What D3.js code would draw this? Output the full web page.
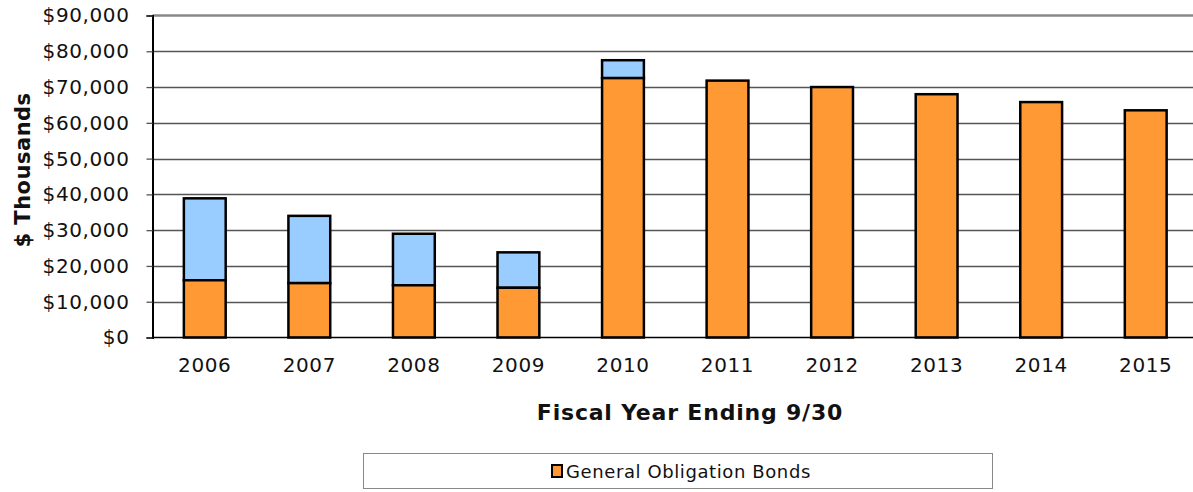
<!DOCTYPE html>
<html>
<head>
<meta charset="utf-8">
<script src="https://cdn.jsdelivr.net/npm/d3@7"></script>
<style>
  body { margin: 0; background: #fff; }
  svg { display: block; font-family: "DejaVu Sans", Verdana, sans-serif; }
</style>
</head>
<body>
<svg id="chart"></svg>
<script>
// fiscal years and bond amounts ($ thousands)
const years = ["2006", "2007", "2008", "2009", "2010", "2011", "2012", "2013", "2014", "2015"];
const generalObligation = [16000, 15200, 14600, 13900, 72500, 71800, 70000, 68000, 65800, 63500];
const otherDebt = [22900, 18800, 14400, 9900, 5000, 0, 0, 0, 0, 0];
const yTicks = [0, 10000, 20000, 30000, 40000, 50000, 60000, 70000, 80000, 90000];
const legendLabel = "General Obligation Bonds";

const width = 1193, height = 492;
const margin = { top: 15.5, right: -5, bottom: 154.5, left: 152.5 };

const svg = d3.select("#chart").attr("width", width).attr("height", height);

const xScale = d3.scaleBand()
    .domain(years)
    .range([margin.left, width - margin.right])
    .paddingInner(0.6)
    .paddingOuter(0.3);

const yScale = d3.scaleLinear()
    .domain([0, 90000])
    .range([height - margin.bottom, margin.top]);

// gridlines
svg.append("g")
    .selectAll("line")
    .data(yTicks.slice(1, -1))
    .join("line")
    .attr("x1", margin.left)
    .attr("x2", width)
    .attr("y1", d => Math.round(yScale(d)) + 0.5)
    .attr("y2", d => Math.round(yScale(d)) + 0.5)
    .attr("stroke", "#555")
    .attr("stroke-width", 1.3);

// top border of plot area
svg.append("line")
    .attr("x1", margin.left).attr("x2", width)
    .attr("y1", yScale(90000)).attr("y2", yScale(90000))
    .attr("stroke", "#888").attr("stroke-width", 2.5);

// stacked bars
const stack = years.map((y, i) => ({ year: y, go: generalObligation[i], other: otherDebt[i] }));
const bars = svg.append("g");

bars.selectAll("rect.other")
    .data(stack.filter(d => d.other > 0))
    .join("rect")
    .attr("class", "other")
    .attr("x", d => xScale(d.year))
    .attr("y", d => yScale(d.go + d.other))
    .attr("width", xScale.bandwidth())
    .attr("height", d => yScale(d.go) - yScale(d.go + d.other))
    .attr("fill", "#99ccff")
    .attr("stroke", "#000")
    .attr("stroke-width", 2.5);

bars.selectAll("rect.go")
    .data(stack)
    .join("rect")
    .attr("class", "go")
    .attr("x", d => xScale(d.year))
    .attr("y", d => yScale(d.go))
    .attr("width", xScale.bandwidth())
    .attr("height", d => yScale(0) - yScale(d.go))
    .attr("fill", "#ff9933")
    .attr("stroke", "#000")
    .attr("stroke-width", 2.5);

// y axis
const yAxis = svg.append("g")
    .attr("transform", `translate(${margin.left},0)`)
    .call(d3.axisLeft(yScale).tickValues(yTicks).tickSize(6).tickPadding(17)
        .tickFormat(d => "$" + d3.format(",")(d)));
yAxis.select(".domain").attr("stroke", "#000").attr("stroke-width", 2);
yAxis.selectAll(".tick line").attr("stroke", "#555").attr("stroke-width", 1.3);
yAxis.selectAll("text")
    .attr("fill", "#111")
    .style("font-size", "20px")
    .style("letter-spacing", "0.6px")
    .style("font-family", "'DejaVu Sans', Verdana, sans-serif");

// x axis
const xAxis = svg.append("g")
    .attr("transform", `translate(0,${yScale(0)})`)
    .call(d3.axisBottom(xScale).tickSize(0).tickPadding(20));
xAxis.select(".domain").attr("stroke", "#000").attr("stroke-width", 1.5)
    .attr("d", `M${margin.left},0H${width}`);
xAxis.selectAll("text")
    .attr("fill", "#111")
    .style("font-size", "20px")
    .style("letter-spacing", "0.6px")
    .style("font-family", "'DejaVu Sans', Verdana, sans-serif");

// axis titles
svg.append("text")
    .attr("x", 690)
    .attr("y", 420)
    .attr("text-anchor", "middle")
    .style("font-size", "22px")
    .style("letter-spacing", "0.8px")
    .style("font-weight", "bold")
    .attr("fill", "#111")
    .text("Fiscal Year Ending 9/30");

svg.append("text")
    .attr("transform", "translate(30,170) rotate(-90)")
    .attr("text-anchor", "middle")
    .style("font-size", "21px")
    .style("letter-spacing", "0.5px")
    .style("font-weight", "bold")
    .attr("fill", "#111")
    .text("$ Thousands");

// legend
const legend = svg.append("g");
legend.append("rect")
    .attr("x", 363.5).attr("y", 453.5)
    .attr("width", 629).attr("height", 35)
    .attr("fill", "#fff").attr("stroke", "#888").attr("stroke-width", 1);
legend.append("rect")
    .attr("x", 552).attr("y", 465)
    .attr("width", 10).attr("height", 12)
    .attr("fill", "#ff9933").attr("stroke", "#000").attr("stroke-width", 2);
legend.append("text")
    .attr("x", 566).attr("y", 478)
    .style("font-size", "18px")
    .style("letter-spacing", "0.6px")
    .attr("fill", "#111")
    .text(legendLabel);
</script>
</body>
</html>
